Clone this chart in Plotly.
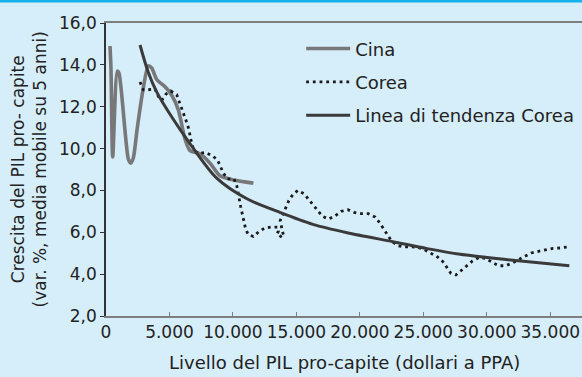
import plotly.graph_objects as go

# ---- data ----
china_x = [315, 394, 528, 891, 1025, 1758, 1947, 2152, 2467, 2940, 3334, 3602, 3997,
           4651, 5179, 5699, 6227, 6621, 7410, 8198, 8986, 10035, 11611]
china_y = [14.9, 13.8, 9.6, 13.7, 13.6, 9.5, 9.3, 9.55, 11.0, 12.9, 13.95, 13.85, 13.3,
           12.95, 12.55, 11.85, 10.45, 9.9, 9.75, 9.3, 8.7, 8.5, 8.35]

korea_x = [2680, 2940, 3334, 3862, 4123, 4391, 4730, 5100, 5573, 5778, 5991, 6172, 6361,
           6519, 6621, 6755, 6937, 7347, 7804, 8356, 8773, 9041, 9246, 9561, 10089, 10301,
           10427, 10506, 10616, 10720, 10822, 10980, 11193, 11611, 12060, 12533, 13062,
           13503, 13580, 13460, 13900, 13980, 13720, 13929, 14165, 14401, 14717, 15111,
           15608, 15978, 16341, 16688, 17050, 17523, 17996, 18524, 19052, 19549, 20101,
           20676, 21204, 21543, 21859, 22127, 22466, 22915, 23435, 24019, 24570, 25091,
           25595, 26115, 26541, 26904, 27172, 27566, 27984, 28433, 28875, 29403, 29931,
           30427, 30924, 31476, 32028, 32974, 33502, 34077, 34629, 35212, 35788, 36363]
korea_y = [13.18, 12.81, 12.81, 12.85, 12.49, 12.30, 12.61, 12.75, 12.57, 12.25, 11.89,
           11.57, 11.25, 10.94, 10.58, 10.23, 9.91, 9.76, 9.82, 9.66, 9.47, 9.15, 8.83,
           8.55, 8.55, 8.23, 7.91, 7.56, 7.21, 6.87, 6.55, 6.21, 5.89, 5.80, 6.04, 6.21,
           6.25, 6.25, 6.05, 5.92, 5.75, 5.85, 6.55, 6.87, 7.19, 7.51, 7.80, 8.00, 7.84,
           7.56, 7.27, 7.03, 6.76, 6.64, 6.76, 7.00, 7.08, 6.95, 6.89, 6.89, 6.73, 6.47,
           6.17, 5.88, 5.61, 5.37, 5.30, 5.31, 5.28, 5.17, 5.01, 4.82, 4.60, 4.31, 4.04,
           3.96, 4.18, 4.40, 4.63, 4.80, 4.75, 4.56, 4.40, 4.40, 4.53, 4.85, 5.01, 5.09,
           5.17, 5.23, 5.25, 5.30]

trend_x = [2680, 3300, 4000, 5300, 6600, 8700, 11100, 13700, 16300, 19000, 22600,
           25300, 27900, 31500, 36500]
trend_y = [14.95, 13.7, 12.7, 11.4, 10.25, 8.6, 7.6, 6.95, 6.38, 5.98, 5.55,
           5.22, 4.95, 4.7, 4.4]

x_ticks = [0, 5000, 10000, 15000, 20000, 25000, 30000, 35000]
y_ticks = [2, 4, 6, 8, 10, 12, 14, 16]

series_names = ["Cina", "Corea", "Linea di tendenza Corea"]
x_title = "Livello del PIL pro-capite (dollari a PPA)"
y_title = "Crescita del PIL pro- capite<br>(var. %, media mobile su 5 anni)"

BG = "#d6edfa"
FONT = "DejaVu Sans"
TXT = "#222222"

fig = go.Figure()
fig.add_trace(go.Scatter(
    x=china_x, y=china_y, mode="lines", name=series_names[0], legendgroup="a",
    line=dict(color="#787878", width=3.6, shape="spline", smoothing=0.7)))
fig.add_trace(go.Scatter(
    x=korea_x, y=korea_y, mode="lines", name=series_names[1], legendgroup="b",
    line=dict(color="#1a1a1a", width=2.8, dash="2.8px,3.9px")))
fig.add_trace(go.Scatter(
    x=trend_x, y=trend_y, mode="lines", name=series_names[2], legendgroup="c",
    line=dict(color="#3a3a3a", width=3, shape="spline", smoothing=0.8)))

fig.update_layout(
    width=582, height=377,
    margin=dict(l=106, r=0, t=23, b=61),
    paper_bgcolor=BG, plot_bgcolor=BG,
    separators=",.",
    font=dict(family=FONT, size=17, color=TXT),
    xaxis=dict(range=[0, 37500], tickvals=x_ticks, tickformat=",d",
               showline=True, linecolor="#7f7f7f", linewidth=2, mirror=True,
               ticks="inside", ticklen=4, tickcolor="#7f7f7f",
               showgrid=False, zeroline=False),
    yaxis=dict(range=[2, 16], tickvals=y_ticks, tickformat=".1f",
               showline=True, linecolor="#333333", linewidth=1.5,
               ticks="outside", ticklen=4, tickcolor="#333333",
               showgrid=False, zeroline=False),
    legend=dict(x=0.41, y=0.975, xanchor="left", yanchor="top",
                bgcolor="rgba(0,0,0,0)", itemwidth=44, tracegroupgap=7,
                font=dict(family=FONT, size=18, color=TXT)),
    annotations=[
        dict(text=x_title, xref="paper", yref="paper", x=0.5, y=-0.16,
             xanchor="center", yanchor="middle", showarrow=False,
             font=dict(family=FONT, size=18, color=TXT)),
        dict(text=y_title, xref="paper", yref="paper", x=-0.162, y=0.5,
             xanchor="center", yanchor="middle", showarrow=False, textangle=-90,
             font=dict(family=FONT, size=17, color=TXT)),
    ],
    shapes=[
        dict(type="line", xref="paper", yref="paper", x0=-0.25, x1=1.05,
             y0=1.0751, y1=1.0751, line=dict(color="#14b1ea", width=3)),
    ],
)

fig.write_html("out.html",
               config={"displayModeBar": False},
               post_script="document.body.style.margin='0';document.body.style.padding='0';"
                           "document.documentElement.style.background='" + BG + "';")
